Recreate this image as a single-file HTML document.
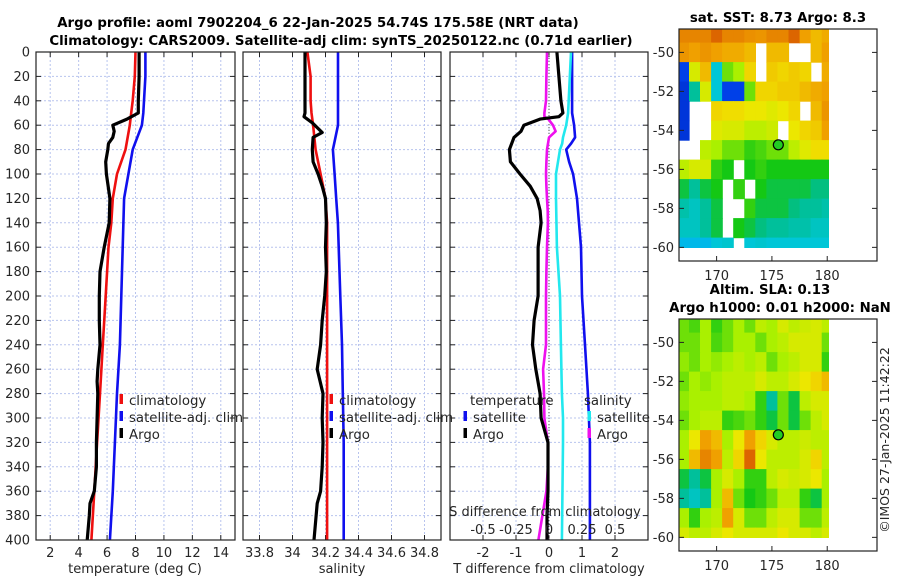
<!DOCTYPE html>
<html><head><meta charset="utf-8"><style>
body{margin:0;background:#fff;}
svg{display:block;font-family:"DejaVu Sans","Liberation Sans",sans-serif;}
.tk{font-size:13px;fill:#262626;}
.tt{font-size:13.3px;font-weight:bold;fill:#000;}
.lg{font-size:13.3px;fill:#262626;}
</style></head><body>
<svg id="fig" width="900" height="580" viewBox="0 0 900 580">
<rect width="900" height="580" fill="#fff"/>
<text class="tt" x="318" y="27" text-anchor="middle">Argo profile: aoml 7902204_6 22-Jan-2025 54.74S 175.58E (NRT data)</text>
<text class="tt" x="341" y="45" text-anchor="middle">Climatology: CARS2009. Satellite-adj clim: synTS_20250122.nc (0.71d earlier)</text>
<text class="tt" x="778" y="22" text-anchor="middle">sat. SST: 8.73 Argo: 8.3</text>
<text class="tt" x="770" y="294" text-anchor="middle">Altim. SLA: 0.13</text>
<text class="tt" x="780" y="312" text-anchor="middle">Argo h1000: 0.01 h2000: NaN</text>
<text class="tk" transform="translate(889,440) rotate(-90)" text-anchor="middle" style="font-size:12.5px">©IMOS 27-Jan-2025 11:42:22</text>
<g id="layer"></g>
</svg>
<script>
// ---------- profile data ----------
const depthTArgo = [0,20,40,50,55,60,65,70,75,80,90,100,120,140,160,180,200,220,240,260,270,280,300,320,340,360,370,380,400];
const tempArgo   = [8.25,8.25,8.2,8.2,7.4,6.4,6.5,6.4,6.1,6.05,5.9,5.95,6.2,6.15,5.8,5.5,5.45,5.45,5.5,5.35,5.3,5.35,5.3,5.25,5.25,5.1,4.8,4.75,4.6];
const depthClim  = [0,20,40,50,60,80,100,120,140,160,200,240,280,320,360,400];
const tempClim   = [8.0,7.95,7.8,7.7,7.6,7.3,6.7,6.4,6.3,6.1,5.9,5.7,5.5,5.3,5.1,4.9];
const tempSat    = [8.7,8.7,8.6,8.55,8.45,7.8,7.5,7.2,7.15,7.1,7.0,6.9,6.7,6.55,6.4,6.2];
const depthSArgo = [0,50,53,58,66,70,80,90,100,110,120,140,160,180,200,220,240,260,280,300,320,340,360,370,400];
const salArgo    = [34.076,34.076,34.07,34.12,34.18,34.125,34.12,34.125,34.155,34.18,34.2,34.205,34.2,34.205,34.195,34.18,34.17,34.15,34.185,34.18,34.185,34.18,34.17,34.15,34.13];
const salClim    = [34.09,34.11,34.11,34.115,34.125,34.14,34.17,34.2,34.21,34.21,34.21,34.21,34.21,34.21,34.21,34.21];
const salSat     = [34.276,34.276,34.276,34.276,34.276,34.245,34.255,34.265,34.275,34.28,34.29,34.3,34.305,34.31,34.31,34.31];
const depthDiff  = [0,20,40,50,53,55,60,65,70,80,90,100,110,120,130,140,160,180,200,220,240,260,280,300,320,340,360,380,400];
const tDiffArgo  = [0.24,0.3,0.36,0.42,0.3,-0.27,-0.76,-0.85,-1.06,-1.2,-1.17,-0.88,-0.57,-0.36,-0.27,-0.24,-0.33,-0.33,-0.33,-0.45,-0.5,-0.4,-0.27,-0.24,-0.03,-0.03,-0.03,-0.06,-0.06];
const sDiffArgo  = [-0.015,-0.02,-0.023,-0.035,-0.035,-0.005,0.03,0.05,0.0,-0.015,-0.02,-0.023,-0.02,-0.015,-0.01,-0.008,-0.015,-0.02,-0.023,-0.023,-0.023,-0.045,-0.038,-0.035,-0.008,-0.008,-0.02,-0.05,-0.08];
const depthSatD  = [0,50,60,70,75,80,90,100,120,160,200,240,280,300,320,400];
const tDiffSat   = [0.7,0.7,0.76,0.79,0.67,0.52,0.61,0.73,0.85,0.97,1.0,1.09,1.18,1.21,1.24,1.24];
const sDiffSat   = [0.167,0.145,0.13,0.106,0.1,0.083,0.068,0.053,0.053,0.06,0.083,0.09,0.098,0.106,0.106,0.098];
const depthTicks = [0,20,40,60,80,100,120,140,160,180,200,220,240,260,280,300,320,340,360,380,400];
const tempTicks  = [2,4,6,8,10,12,14];
const salTicks   = [33.8,34,34.2,34.4,34.6,34.8];
const salTickLabels = ["33.8","34","34.2","34.4","34.6","34.8"];
const tdTicks    = [-2,-1,0,1,2];
const sdTicks    = [-0.5,-0.25,0,0.25,0.5];
const sdTickLabels = ["-0.5","-0.25","0","0.25","0.5"];
// ---------- map data (colour index 0..1, null = no data) ----------
const mapLons = [167,168,169,170,171,172,173,174,175,176,177,178,179,180];
const mapLats = [-49,-50,-51,-52,-53,-54,-55,-56,-57,-58,-59,-60];
const lonTicks = [170,175,180];
const latTicks = [-50,-52,-54,-56,-58,-60];
const N=null;
const sstRows = [
[.85,.85,.85,.88,.85,.85,.83,.82,.85,.85,.88,.8,.75,.78],
[.82,.8,.82,.8,.78,.78,.75,N,.75,.75,N,N,.75,.8],
[.1,.6,.75,.2,.45,.5,.7,N,.72,.7,.72,.7,N,.78],
[.05,.3,.6,.2,.1,.1,.45,.7,.7,.72,.72,.75,.78,.8],
[.05,N,N,.7,.68,.68,.65,.65,.62,.65,.7,N,.75,.82],
[.05,N,N,.62,.6,.6,.55,.55,.58,N,.65,.7,.72,.8],
[N,N,.55,.5,.45,.45,.4,.42,.45,.45,.55,.62,.68,.68],
[.55,.6,.6,.4,.38,N,.38,.4,.38,.38,.38,.38,.38,.38],
[.35,.3,.35,.38,N,.4,N,.38,.35,.35,.35,.35,.32,.32],
[.28,.25,.3,.35,N,N,.4,.35,.35,.35,.32,.3,.3,.28],
[.25,.25,.3,.35,N,.38,.35,.32,.3,.3,.28,.28,.25,.25],
[.18,.18,.18,.2,.22,N,.2,.22,.2,.2,.2,.2,.2,.2]];
const slaRows = [
[.45,.42,.5,.4,.45,.5,.45,.55,.5,.6,.55,.58,.6,.55],
[.45,.45,.5,.42,.45,.5,.5,.45,.5,.55,.6,.6,.6,.45],
[.48,.45,.5,.48,.5,.55,.5,.55,.45,.5,.55,.6,.6,.4],
[.45,.5,.48,.5,.55,.55,.55,.6,.55,.55,.6,.65,.7,.75],
[.48,.5,.5,.5,.55,.55,.5,.4,.3,.45,.35,.55,.6,.6],
[.45,.5,.55,.55,.4,.42,.45,.4,.35,.45,.35,.45,.55,.6],
[.5,.65,.8,.75,.5,.65,.8,.7,.6,.55,.55,.58,.55,.55],
[.5,.75,.85,.8,.55,.7,.88,.65,.55,.55,.55,.6,.7,.55],
[.35,.3,.35,.5,.6,.5,.4,.4,.55,.6,.58,.6,.65,.5],
[.3,.25,.3,.5,.75,.45,.38,.4,.45,.55,.55,.4,.35,.5],
[.5,.4,.5,.55,.8,.6,.45,.45,.55,.6,.6,.45,.45,.55],
[.6,.55,.55,.6,.65,.6,.6,.6,.6,.65,.6,.6,.55,.6]];
const argoLon = 175.58, argoLat = -54.74;

const NS="http://www.w3.org/2000/svg";
const layer=document.getElementById('layer');
function mk(tag,attrs,parent){const e=document.createElementNS(NS,tag);for(const k in attrs)e.setAttribute(k,attrs[k]);(parent||layer).appendChild(e);return e;}
const Y0=52,Y1=540;
const yD=d=>Y0+(d/400)*(Y1-Y0);
function lin(d0,d1,r0,r1){return v=>r0+(v-d0)/(d1-d0)*(r1-r0);}
const panels=[
 {x0:36,x1:235,dom:[1,15],name:'temperature'},
 {x0:243,x1:441,dom:[33.7,34.9],name:'salinity'},
 {x0:450,x1:648,dom:[-3,3],name:'difference'}];
panels.forEach(p=>{p.sx=lin(p.dom[0],p.dom[1],p.x0,p.x1);});
const sxS=lin(-0.75,0.75,450,648);

function grid(p,ticks){
  const g=mk('g',{});
  
  
  ticks.forEach(t=>mk('line',{x1:p.sx(t),x2:p.sx(t),y1:Y0,y2:Y1,stroke:'#b8c4ee','stroke-width':1,'stroke-dasharray':'2,2'},g));
  depthTicks.forEach(d=>{
    mk('line',{x1:p.x0,x2:p.x1,y1:yD(d),y2:yD(d),stroke:'#b8c4ee','stroke-width':1,'stroke-dasharray':'2,2'},g);
    mk('line',{x1:p.x0,x2:p.x0+5,y1:yD(d),y2:yD(d),stroke:'#222'},g);
    mk('line',{x1:p.x1,x2:p.x1-5,y1:yD(d),y2:yD(d),stroke:'#222'},g);
  });
  ticks.forEach(t=>{
    mk('line',{x1:p.sx(t),x2:p.sx(t),y1:Y1,y2:Y1-5,stroke:'#222'},g);
    mk('line',{x1:p.sx(t),x2:p.sx(t),y1:Y0,y2:Y0+5,stroke:'#222'},g);
  });
}
function frame(p){
  const r=mk('rect',{x:p.x0,y:Y0,width:p.x1-p.x0,height:Y1-Y0,fill:'none',stroke:'#222','stroke-width':1.2});
  
  
}
function line(xs,ds,sx,color,w,name){
  const pts=xs.map((v,i)=>sx(v).toFixed(1)+','+yD(ds[i]).toFixed(1)).join(' ');
  const e=mk('polyline',{points:pts,fill:'none',stroke:color,'stroke-width':w,'stroke-linejoin':'round'});
  
  
}
function txt(x,y,s,cls,anchor,name){
  const e=mk('text',{x:x,y:y,class:cls,'text-anchor':anchor||'start'});
  e.textContent=s;
  
  
  return e;
}
function legItem(x,y,color,label,name){
  const r=mk('rect',{x:x-1.5,y:y-11,width:3.5,height:10,fill:color});
  
  
  txt(x+8,y,label,'lg','start',name);
}
const P1=panels[0],P2=panels[1],P3=panels[2];
grid(P1,tempTicks);
line(tempSat,depthClim,P1.sx,'#1010ee',2.6,'temp-satellite-line');
line(tempClim,depthClim,P1.sx,'#ee1010',2.6,'temp-climatology-line');
line(tempArgo,depthTArgo,P1.sx,'#000',3.2,'temp-argo-line');
frame(P1);
depthTicks.forEach(d=>txt(30,yD(d)+4.5,String(d),'tk','end','y-tick-'+d));
tempTicks.forEach(t=>txt(P1.sx(t),557,String(t),'tk','middle','temp-tick-'+t));
txt(135,573,'temperature (deg C)','tk','middle','temp-x-axis-title');
legItem(121,405,'#ee1010','climatology','temp-legend-climatology');
legItem(121,422,'#1010ee','satellite-adj. clim','temp-legend-satellite');
legItem(121,439,'#000','Argo','temp-legend-argo');
grid(P2,salTicks);
line(salSat,depthClim,P2.sx,'#1010ee',2.6,'sal-satellite-line');
line(salClim,depthClim,P2.sx,'#ee1010',2.6,'sal-climatology-line');
line(salArgo,depthSArgo,P2.sx,'#000',3.2,'sal-argo-line');
frame(P2);
salTicks.forEach((t,i)=>txt(P2.sx(t),557,salTickLabels[i],'tk','middle','sal-tick-'+i));
txt(342,573,'salinity','tk','middle','sal-x-axis-title');
legItem(331,405,'#ee1010','climatology','sal-legend-climatology');
legItem(331,422,'#1010ee','satellite-adj. clim','sal-legend-satellite');
legItem(331,439,'#000','Argo','sal-legend-argo');
grid(P3,tdTicks);
const zl=mk('line',{x1:P3.sx(0),x2:P3.sx(0),y1:Y0,y2:Y1,stroke:'#555','stroke-dasharray':'1,2'});


line(tDiffSat,depthSatD,P3.sx,'#1010ee',2.6,'tdiff-satellite-line');
line(sDiffSat,depthSatD,sxS,'#22e8ee',2.6,'sdiff-satellite-line');
line(sDiffArgo,depthDiff,sxS,'#ee10ee',2.6,'sdiff-argo-line');
line(tDiffArgo,depthDiff,P3.sx,'#000',3.2,'tdiff-argo-line');
frame(P3);
tdTicks.forEach(t=>txt(P3.sx(t),557,String(t),'tk','middle','tdiff-tick-'+t));
txt(549,573,'T difference from climatology','tk','middle','tdiff-x-axis-title');
sdTicks.forEach((t,i)=>txt(sxS(t),534,sdTickLabels[i],'tk','middle','sdiff-tick-'+i));
txt(545,516,'S difference from climatology','tk','middle','sdiff-axis-title');
txt(470,405,'temperature','lg','start','diff-legend-temperature-header');
legItem(465,422,'#1010ee','satellite','diff-legend-temp-satellite');
legItem(465,439,'#000','Argo','diff-legend-temp-argo');
txt(584,405,'salinity','lg','start','diff-legend-salinity-header');
legItem(589,422,'#22e8ee','satellite','diff-legend-sal-satellite');
legItem(589,439,'#ee10ee','Argo','diff-legend-sal-argo');

// ---------- maps ----------
const calIn  = [0,0.05,0.1,0.2,0.25,0.3,0.35,0.4,0.45,0.5,0.55,0.6,0.7,0.8,0.85,0.9,1];
const calOut = [0.08,0.1,0.12,0.32,0.35,0.4,0.47,0.52,0.56,0.6,0.62,0.65,0.7,0.76,0.8,0.88,1];
const cmPos = [0,0.15,0.3,0.42,0.5,0.6,0.68,0.76,0.85,1];
const cmCol = [[0,0,140],[0,80,255],[0,200,230],[0,190,140],[20,200,20],[170,240,0],[240,230,0],[240,160,0],[220,100,0],[160,0,0]];
function interp(v,xs,ys){
  if(v<=xs[0]) return 0;
  for(let i=1;i<xs.length;i++){ if(v<=xs[i]) return i-1+(v-xs[i-1])/(xs[i]-xs[i-1]); }
  return xs.length-1;
}
function cal(v){
  const f=interp(v,calIn); const i=Math.min(Math.floor(f),calOut.length-2); const t=f-i;
  return calOut[i]+t*(calOut[i+1]-calOut[i]);
}
function cmap(v0){
  const f=interp(cal(v0),cmPos); const i=Math.min(Math.floor(f),cmCol.length-2); const t=f-i;
  const c=[0,1,2].map(k=>Math.round(cmCol[i][k]+t*(cmCol[i+1][k]-cmCol[i][k])));
  return 'rgb('+c.join(',')+')';
}
function map(m){
  const sx=lin(166.6,184.5,679,877), sy=lin(-48.8,-60.7,m.top,m.top+232);
  const g=mk('g',{});
  
  
  const cid='clip-'+m.name;
  const cp=mk('clipPath',{id:cid},g);
  mk('rect',{x:679,y:m.top,width:829-679,height:m.dataBottom-m.top},cp);
  const cg=mk('g',{'clip-path':'url(#'+cid+')'},g);
  m.rows.forEach((row,j)=>row.forEach((v,i)=>{
    if(v===null) return;
    const x0=sx(mapLons[i]-0.5),x1=sx(mapLons[i]+0.5),y0=sy(mapLats[j]+0.5),y1=sy(mapLats[j]-0.5);
    const r=mk('rect',{x:x0.toFixed(1),y:y0.toFixed(1),width:(x1-x0+0.6).toFixed(1),height:(y1-y0+0.6).toFixed(1),fill:cmap(v)},cg);
    
    
  }));
  const fr=mk('rect',{x:679,y:m.top,width:198,height:232,fill:'none',stroke:'#222','stroke-width':1.2},g);
  
  
  const mc=mk('circle',{cx:sx(argoLon),cy:sy(argoLat),r:5,fill:'#22cc22',stroke:'#000','stroke-width':1.2},g);
  
  
  latTicks.forEach(t=>{
    mk('line',{x1:877,x2:872,y1:sy(t),y2:sy(t),stroke:'#222'},g);
    mk('line',{x1:679,x2:684,y1:sy(t),y2:sy(t),stroke:'#222'},g);
    txt(674,sy(t)+4.5,String(t),'tk','end',m.name+'-lat-tick');
  });
  lonTicks.forEach(t=>{
    mk('line',{x1:sx(t),x2:sx(t),y1:m.top+232,y2:m.top+227,stroke:'#222'},g);
    txt(sx(t),m.top+251,String(t),'tk','middle',m.name+'-lon-tick');
  });
}
map({name:'sst-map',top:29,dataBottom:248,rows:sstRows});
map({name:'sla-map',top:319,dataBottom:538,rows:slaRows});
</script>
</body></html>
